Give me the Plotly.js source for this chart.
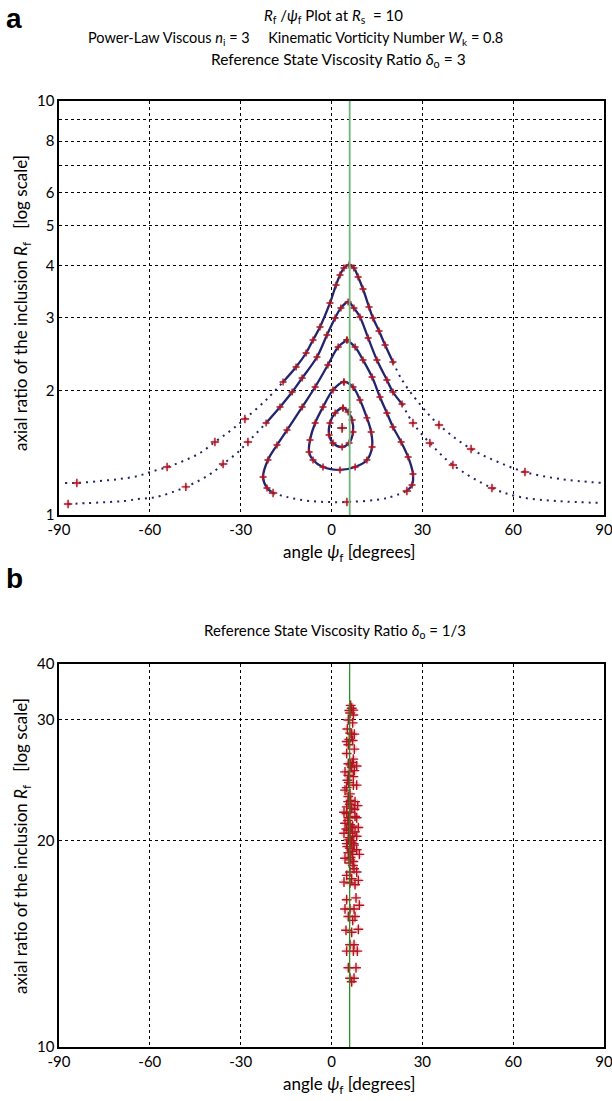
<!DOCTYPE html>
<html><head><meta charset="utf-8">
<script src="https://cdn.plot.ly/plotly-3.0.1.min.js"></script>
<style>html,body{margin:0;padding:0;background:#fff}#chart{width:612px;height:1101px}</style>
</head><body><div id="chart"></div>
<script>
// ---- axis ticks ----
const xTickVals = [-90, -60, -30, 0, 30, 60, 90];
const xTickText = ['-90', '-60', '-30', '0', '30', '60', '90'];
const yTickValsA = [1, 2, 3, 4, 5, 6, 7, 8, 9, 10];
const yTickTextA = ['1', '2', '3', '4', '5', '6', '', '8', '', '10'];
const yTickValsB = [10, 20, 30, 36.2];
const yTickTextB = ['10', '20', '30', '40'];
const stableAngle = 6;   // green reference line (degrees)

// ---- panel a : delta_o = 3 ----
// open curve with peak Rf ~ 4.0
const curveA_psi = [-88.0,-84.1,-76.5,-69.9,-63.9,-59.9,-54.3,-49.0,-43.4,-38.5,-33.5,-28.6,-21.3,-16.0,-11.7,-8.4,-6.1,-3.8,-0.5,1.5,2.8,4.1,5.8,7.4,8.8,10.4,12.4,13.7,15.7,17.7,20.3,23.3,28.6,35.5,46.1,55.0,63.9,75.5,89.4];
const curveA_Rf  = [1.195,1.195,1.208,1.222,1.242,1.270,1.306,1.350,1.412,1.501,1.596,1.706,1.906,2.096,2.278,2.462,2.647,2.846,3.252,3.594,3.800,3.951,4.018,3.951,3.758,3.515,3.180,2.991,2.783,2.574,2.342,2.119,1.875,1.650,1.444,1.343,1.270,1.222,1.195];
// open curve with peak Rf ~ 3.3
const curveB_psi = [-87.0,-80.1,-73.8,-68.2,-63.9,-59.9,-56.6,-52.3,-48.1,-43.4,-39.1,-35.8,-31.2,-27.6,-21.6,-17.0,-13.0,-9.7,-4.8,-1.5,1.2,3.1,5.5,7.4,9.4,12.1,15.0,18.3,20.3,23.3,26.9,32.5,40.1,53.0,62.3,74.5,89.4];
const curveB_Rf  = [1.063,1.069,1.075,1.081,1.093,1.099,1.111,1.137,1.169,1.215,1.270,1.328,1.412,1.501,1.668,1.823,1.982,2.142,2.408,2.722,2.991,3.162,3.270,3.162,3.008,2.677,2.368,2.119,1.982,1.854,1.668,1.492,1.321,1.162,1.105,1.081,1.069];
// closed loop with peak Rf ~ 2.65
const curveC_psi = [5.1,2.2,-1.2,-5.4,-9.7,-14.7,-18.0,-21.0,-22.6,-21.3,-19.3,-14.7,-7.1,5.1,18.3,24.9,26.6,26.9,25.3,23.0,20.3,18.3,16.0,13.4,10.4,7.8,5.1];
const curveC_Rf  = [2.647,2.545,2.303,2.038,1.823,1.604,1.476,1.358,1.235,1.162,1.130,1.105,1.081,1.075,1.099,1.143,1.182,1.256,1.381,1.501,1.632,1.763,1.928,2.154,2.368,2.545,2.647];
// closed loop with peak Rf ~ 2.1
const curveD_psi = [4.1,0.5,-2.8,-5.4,-7.1,-7.4,-6.1,-2.8,2.8,7.8,11.7,13.4,13.1,11.7,9.4,7.1,4.1];
const curveD_Rf  = [2.096,2.004,1.823,1.668,1.518,1.420,1.358,1.306,1.285,1.306,1.358,1.460,1.586,1.716,1.896,2.038,2.096];
// closed loop with peak Rf ~ 1.8
const curveE_psi = [3.8,1.2,-0.5,-0.8,0.5,3.5,5.8,7.1,6.8,5.5,3.8];
const curveE_Rf  = [1.813,1.763,1.668,1.561,1.492,1.460,1.492,1.586,1.696,1.773,1.813];
// centre point
const centre_psi = [3.5];
const centre_Rf  = [1.623];
// sparse red crosses on the dotted skirts
const skirtCross_psi = [-84.1,-54.3,-38.5,-28.6,-87.0,-48.1,-35.8,-27.6,35.5,46.1,63.9,26.9,32.5,40.1,53.0,5.1,-19.3,24.9];
const skirtCross_Rf  = [1.195,1.306,1.501,1.706,1.063,1.169,1.328,1.501,1.650,1.444,1.270,1.668,1.492,1.321,1.162,1.075,1.130,1.143];

// ---- panel b : delta_o = 1/3 ----
const bPsi = [6.34,6.67,5.89,7.22,6.12,7.22,5.56,7.0,5.23,6.12,6.67,7.55,5.01,5.89,7.0,5.56,7.55,7.22,5.01,5.56,6.34,8.32,6.67,4.46,5.89,7.55,5.56,7.22,5.23,7.22,8.32,5.01,4.46,5.56,6.34,7.77,6.12,5.01,8.65,6.67,4.13,6.12,7.77,5.56,8.32,4.46,6.12,7.0,8.87,5.56,7.77,4.13,6.12,7.0,8.32,5.56,6.67,5.01,7.44,6.12,8.32,5.56,7.0,9.2,4.46,6.12,7.22,5.89,7.44,6.12,8.32,5.01,6.67,8.87,4.13,6.12,7.77,5.01,8.1,4.46,6.12,7.44,9.2,5.56,7.77,7.0,4.79,6.67,8.87,6.12,7.44,5.01,7.22,8.54,5.56,8.1,6.12,7.44,6.67,5.4,6.5,6.0,7.3,5.2,6.8,6.3,5.0,7.6,6.1,5.7,6.9,4.9,7.1,6.4,5.5];
const bRf  = [31.5,31.2,30.96,31.0,30.7,30.5,30.0,29.7,29.1,28.7,28.6,28.6,27.9,28.1,28.0,27.6,27.2,26.3,26.8,25.9,25.8,25.7,25.6,25.2,25.2,25.3,24.9,24.8,24.5,24.1,24.1,23.9,23.7,23.2,22.9,22.8,22.6,22.4,22.5,22.3,22.0,22.0,21.7,21.6,21.6,21.2,21.1,21.0,20.9,20.7,20.6,20.5,20.5,20.3,20.3,20.05,19.9,19.8,19.7,19.5,19.4,19.2,19.1,19.1,18.85,18.75,18.65,18.55,18.2,18.0,18.0,17.8,17.6,17.5,17.4,17.35,17.25,16.4,16.5,15.9,15.9,15.9,16.1,15.5,15.5,15.3,14.8,14.7,14.85,14.1,14.1,13.8,13.8,13.8,13.05,13.05,12.6,12.6,12.45,21.4,20.9,20.2,19.8,19.6,19.3,18.9,21.9,22.2,23.4,24.3,26.0,20.8,18.4,20.0,22.8];

// ---- styles ----
const navy = '#24246e';
const red = '#a8141f';
const font = "Lato, 'Open Sans', sans-serif";

function seg(xs, ys, i0, i1, dash, xa, ya) {
  const solid = dash === 'solid';
  return {x: xs.slice(i0, i1 + 1), y: ys.slice(i0, i1 + 1), xaxis: xa, yaxis: ya,
    mode: 'lines', line: {color: navy, width: solid ? 2.3 : 2, dash: solid ? 'solid' : '2px,5px', shape: 'spline', smoothing: 1},
    hoverinfo: 'skip', showlegend: false, type: 'scatter'};
}
function crosses(xs, ys, xa, ya, size, col) {
  return [
    {x: xs, y: ys, xaxis: xa, yaxis: ya, mode: 'markers', type: 'scatter', showlegend: false, hoverinfo: 'skip',
     marker: {symbol: 'circle', size: size, color: 'rgba(225,120,135,0.3)'}},
    {x: xs, y: ys, xaxis: xa, yaxis: ya, mode: 'markers', type: 'scatter', showlegend: false, hoverinfo: 'skip',
     marker: {symbol: 'cross-thin', size: size, line: {width: 1.4, color: col}}}
  ];
}

const traces = [
  seg(curveA_psi, curveA_Rf, 0, 13, 'dot', 'x', 'y'),
  seg(curveA_psi, curveA_Rf, 13, 30, 'solid', 'x', 'y'),
  seg(curveA_psi, curveA_Rf, 30, curveA_psi.length - 1, 'dot', 'x', 'y'),
  seg(curveB_psi, curveB_Rf, 0, 14, 'dot', 'x', 'y'),
  seg(curveB_psi, curveB_Rf, 14, 29, 'solid', 'x', 'y'),
  seg(curveB_psi, curveB_Rf, 29, curveB_psi.length - 1, 'dot', 'x', 'y'),
  seg(curveC_psi, curveC_Rf, 0, 10, 'solid', 'x', 'y'),
  seg(curveC_psi, curveC_Rf, 10, 15, 'dot', 'x', 'y'),
  seg(curveC_psi, curveC_Rf, 15, curveC_psi.length - 1, 'solid', 'x', 'y'),
  seg(curveD_psi, curveD_Rf, 0, curveD_psi.length - 1, 'solid', 'x', 'y'),
  seg(curveE_psi, curveE_Rf, 0, curveE_psi.length - 1, 'solid', 'x', 'y'),
  ...crosses(curveA_psi.slice(13, 31), curveA_Rf.slice(13, 31), 'x', 'y', 5, red),
  ...crosses(curveB_psi.slice(14, 30), curveB_Rf.slice(14, 30), 'x', 'y', 5, red),
  ...crosses(curveC_psi.slice(0, 10).concat(curveC_psi.slice(16)), curveC_Rf.slice(0, 10).concat(curveC_Rf.slice(16)), 'x', 'y', 5, red),
  ...crosses(curveD_psi, curveD_Rf, 'x', 'y', 5, red),
  ...crosses(curveE_psi, curveE_Rf, 'x', 'y', 5, red),
  ...crosses(skirtCross_psi, skirtCross_Rf, 'x', 'y', 6, red),
  ...crosses(centre_psi, centre_Rf, 'x', 'y', 7, '#7a0a10'),
  ...crosses(bPsi, bRf, 'x2', 'y2', 7, '#b3141f')
];

const tickFont = {size: 15, color: '#000', family: font};
const xAxisCommon = {range: [-90, 90], tickvals: xTickVals, ticktext: xTickText, ticks: '',
  ticklabeloverflow: 'allow', automargin: false,
  showgrid: true, gridcolor: '#000', griddash: 'dot', gridwidth: 1, zeroline: false,
  showline: true, linecolor: '#000', linewidth: 1.6, mirror: true,
  tickfont: tickFont, fixedrange: true};
const yAxisCommon = {type: 'log', ticks: '', showgrid: true, gridcolor: '#000', griddash: 'dot', gridwidth: 1,
  ticklabeloverflow: 'allow', automargin: false,
  zeroline: false, showline: true, linecolor: '#000', linewidth: 1.6, mirror: true,
  tickfont: tickFont, fixedrange: true};

const W = 545, H = 946, L = 59, T = 101;
const px = v => (v - L) / W;
const py = v => (T + H - v) / H;

const ann = (text, x, y, opts) => Object.assign({text: text, x: px(x), y: py(y), xref: 'paper', yref: 'paper',
  showarrow: false, xanchor: 'center', yanchor: 'middle', font: {size: 15, color: '#000', family: font}}, opts || {});
const axTitleFont = {size: 17, color: '#000', family: font};

const layout = {
  width: 612, height: 1101, paper_bgcolor: '#fff', plot_bgcolor: '#fff',
  margin: {l: L, r: 8, t: T, b: 54}, showlegend: false, font: {family: font, color: '#000'},
  xaxis: Object.assign({}, xAxisCommon, {anchor: 'y', domain: [0, 1]}),
  yaxis: Object.assign({}, yAxisCommon, {range: [0, 1], tickvals: yTickValsA, ticktext: yTickTextA,
    domain: [py(515), 1], anchor: 'x'}),
  xaxis2: Object.assign({}, xAxisCommon, {anchor: 'y2', domain: [0, 1]}),
  yaxis2: Object.assign({}, yAxisCommon, {range: [1, Math.log10(36.2)], tickvals: yTickValsB, ticktext: yTickTextB,
    domain: [0, py(664)], anchor: 'x2'}),
  shapes: [
    {type: 'line', xref: 'x', yref: 'y domain', x0: stableAngle, x1: stableAngle, y0: 0, y1: 1,
     line: {color: '#6db578', width: 1.8}},
    {type: 'line', xref: 'x2', yref: 'y2 domain', x0: stableAngle, x1: stableAngle, y0: 0, y1: 1,
     line: {color: '#1a8c1a', width: 1.2}}
  ],
  annotations: [
    ann('<b>a</b>', 4, 18, {xanchor: 'left', font: {size: 28, color: '#000', family: "'Liberation Sans', Arial, sans-serif"}}),
    ann('<b>b</b>', 4, 578, {xanchor: 'left', font: {size: 28, color: '#000', family: "'Liberation Sans', Arial, sans-serif"}}),
    ann('<i>R</i><sub>f</sub> /<i>ψ</i><sub>f</sub> Plot at <i>R</i><sub>s</sub>  = 10', 333, 16),
    ann('Power-Law Viscous <i>n</i><sub>i</sub> = 3     Kinematic Vorticity Number <i>W</i><sub>k</sub> = 0.8', 295, 38, {font: {size: 14.5, color: '#000', family: font}}),
    ann('Reference State Viscosity Ratio <i>δ</i><sub>o</sub> = 3', 338, 60, {font: {size: 15.5, color: '#000', family: font}}),
    ann('angle <i>ψ</i><sub>f</sub> [degrees]', 349, 553, {font: axTitleFont}),
    ann('axial ratio of the inclusion <i>R</i><sub>f</sub>   [log scale]', 22, 303, {textangle: -90, font: axTitleFont}),
    ann('Reference State Viscosity Ratio <i>δ</i><sub>o</sub> = 1/3', 335, 631),
    ann('angle <i>ψ</i><sub>f</sub> [degrees]', 349, 1085, {font: axTitleFont}),
    ann('axial ratio of the inclusion <i>R</i><sub>f</sub>   [log scale]', 22, 846, {textangle: -90, font: axTitleFont})
  ]
};

Plotly.newPlot('chart', traces, layout, {displayModeBar: false, staticPlot: true});
</script>
</body></html>
